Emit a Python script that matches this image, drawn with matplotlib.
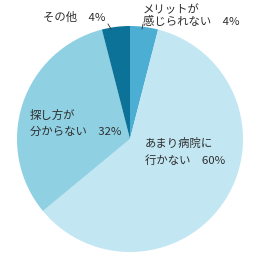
import matplotlib.pyplot as plt

plt.rcParams['font.family'] = ['Noto Sans CJK JP', 'DejaVu Sans']

labels = ["メリットが\n感じられない　4%", "あまり病院に\n行かない　60%", "探し方が\n分からない　32%", "その他　4%"]
values = [4, 60, 32, 4]
colors = ["#4caed3", "#c2e7f2", "#8fd0e3", "#0c7297"]

W, H = 260, 259
cx, cy, r = 130, 139, 113

fig = plt.figure(figsize=(W / 100, H / 100), dpi=100)
ax = fig.add_axes([(cx - r) / W, (H - cy - r) / H, 2 * r / W, 2 * r / H])
ax.pie(values, colors=colors, startangle=90, counterclock=False,
       wedgeprops=dict(linewidth=0))
ax.set_xlim(-1, 1)
ax.set_ylim(-1, 1)
ax.set_aspect('equal')
ax.axis('off')


def px(x, y):
    return (x - cx) / r, (cy - y) / r


txt = dict(fontsize=8.2, color="#2e2e2e", va="center", ha="left")
ax.text(*px(143, 16), labels[0], linespacing=1.1, clip_on=False, **txt)
ax.text(*px(145, 152), labels[1], linespacing=1.7, **txt)
ax.text(*px(30, 123), labels[2], linespacing=1.7, **txt)
ax.text(*px(43, 17), labels[3], clip_on=False, **txt)

# short leader lines
ax.plot(*zip(px(108, 24), px(111, 29)), color="#333333", lw=0.6, clip_on=False)
ax.plot(*zip(px(143, 24), px(142, 29)), color="#333333", lw=0.6, clip_on=False)

fig.savefig("out.png", dpi=100)
